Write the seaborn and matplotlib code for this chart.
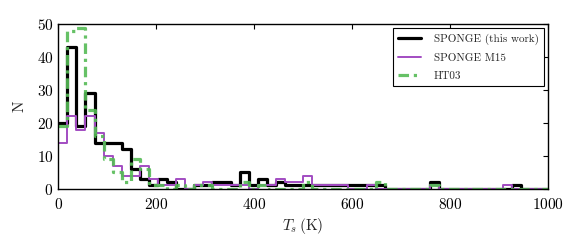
import numpy as np
import pandas as pd
import matplotlib
matplotlib.use("Agg")
import matplotlib.pyplot as plt
import seaborn as sns

# ---- data: counts per temperature bin (bin width ~18.5 K, 0-1000 K) ----
bin_edges = [round(1000 * i / 54, 4) for i in range(55)]
sponge_this_work = [20, 43, 19, 29, 14, 14, 14, 12, 6, 3,
                    1, 3, 2, 0, 0, 1, 1, 2, 2, 1,
                    5, 1, 3, 1, 2, 1, 1, 1, 1, 1,
                    1, 1, 1, 1, 1, 1, 0, 0, 0, 0,
                    0, 2, 0, 0, 0, 0, 0, 0, 0, 0,
                    1, 0, 0, 0]
sponge_m15 = [14, 22, 18, 22, 17, 10, 7, 4, 4, 7,
              3, 1, 1, 3, 0, 1, 2, 1, 1, 1,
              1, 0, 1, 1, 3, 2, 2, 4, 1, 1,
              1, 1, 0, 0, 1, 0, 0, 0, 0, 0,
              0, 1, 0, 0, 0, 0, 0, 0, 0, 1,
              0, 0, 0, 0]
ht03 = [19, 48, 49, 24, 16, 9, 5, 2, 9, 6,
        1, 1, 0, 1, 0, 1, 1, 0, 0, 0,
        2, 0, 1, 0, 0, 0, 0, 2, 0, 0,
        0, 0, 0, 0, 0, 2, 0, 0, 0, 0,
        0, 1, 0, 0, 0, 0, 0, 0, 0, 0,
        0, 0, 0, 0]
series_labels = ["SPONGE (this work)", "SPONGE M15", "HT03"]
x_ticks = [0, 200, 400, 600, 800, 1000]
y_ticks = [0, 10, 20, 30, 40, 50]

edges_arr = np.asarray(bin_edges)
centers = 0.5 * (edges_arr[:-1] + edges_arr[1:])

sns.set_style("white")
plt.rcParams.update({
    "font.family": "serif",
    "font.serif": ["cmr10", "DejaVu Serif"],
    "mathtext.fontset": "cm",
    "axes.formatter.use_mathtext": True,
    "axes.unicode_minus": False,
    "axes.edgecolor": "black",
    "axes.linewidth": 1.0,
    "xtick.direction": "in",
    "ytick.direction": "in",
    "xtick.top": True,
    "ytick.right": True,
    "xtick.major.size": 3.5,
    "ytick.major.size": 3.5,
    "xtick.color": "black",
    "ytick.color": "black",
    "font.size": 11,
})

fig = plt.figure(figsize=(5.81, 2.49), dpi=100)
ax = fig.add_axes([0.1003, 0.242, 0.8427, 0.660])

styles = [
    dict(color="black", linewidth=2.3, linestyle="-"),
    dict(color="#a24cc2", linewidth=1.4, linestyle="-"),
    dict(color="#55bb55", linewidth=2.3, linestyle=(0, (3.3, 1.5, 1.0, 1.5)), alpha=0.9),
]
for vals, lab, st in zip([sponge_this_work, sponge_m15, ht03], series_labels, styles):
    df = pd.DataFrame({"Ts": centers, "N": np.asarray(vals, dtype=float)})
    sns.histplot(data=df, x="Ts", weights="N", bins=bin_edges, element="step",
                 fill=False, ax=ax, label=lab, **st)

ax.set_xlim(0, 1000)
ax.set_ylim(0, 50)
ax.set_xticks(x_ticks)
ax.set_yticks(y_ticks)
ax.tick_params(labelsize=11, width=0.8, colors="black")
ax.tick_params(axis="x", pad=6)
ax.set_xlabel(r"$T_s\,$(K)", fontsize=11, labelpad=3)
ax.set_ylabel("N", fontsize=11, labelpad=7)

leg = ax.legend(loc="upper right", fontsize=8, frameon=True, fancybox=False,
                edgecolor="black", framealpha=1.0, borderaxespad=0.35,
                handlelength=2.0, handletextpad=1.2, labelspacing=0.75,
                borderpad=0.45)
leg.get_frame().set_linewidth(0.8)

fig.savefig("out.png", dpi=100)
